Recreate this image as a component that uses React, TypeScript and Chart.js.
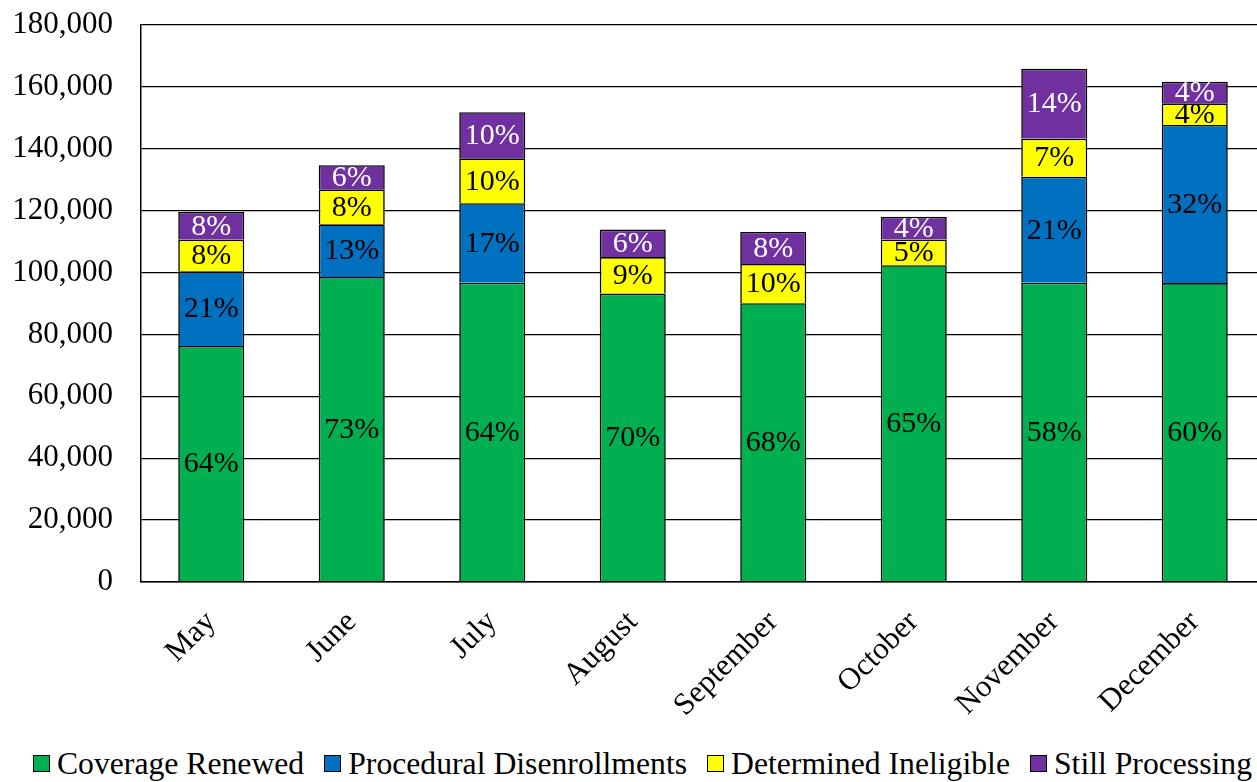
import React, { useEffect, useRef } from "react";
import { Chart, registerables } from "chart.js";

Chart.register(...registerables);

// Monthly renewal outcomes (counts)
const months = ["May", "June", "July", "August", "September", "October", "November", "December"];
const coverageRenewed = [76300, 98600, 96700, 93200, 90100, 102400, 96700, 96600];
const proceduralDisenrollments = [24100, 17000, 25700, null, null, null, 34300, 51100];
const determinedIneligible = [10200, 11300, 14500, 11800, 12700, 8300, 12300, 7000];
const stillProcessing = [9000, 7800, 14900, 8900, 10300, 7300, 22600, 7000];

// Share of each month's total, as printed on the segments
const coveragePct = [64, 73, 64, 70, 68, 65, 58, 60];
const proceduralPct = [21, 13, 17, null, null, null, 21, 32];
const ineligiblePct = [8, 8, 10, 9, 10, 5, 7, 4];
const processingPct = [8, 6, 10, 6, 8, 4, 14, 4];

const seriesNames = ["Coverage Renewed", "Procedural Disenrollments", "Determined Ineligible", "Still Processing"];
const seriesColors = ["#00B050", "#0070C0", "#FFFF00", "#7030A0"];
const labelColors = ["#000000", "#000000", "#000000", "#FFFFFF"];

const yTicks = [0, 20000, 40000, 60000, 80000, 100000, 120000, 140000, 160000, 180000];

const FONT = '"Liberation Serif", "Times New Roman", serif';

const CHART_W = 1285;
const CHART_H = 745;

export default function App() {
  const canvasRef = useRef<HTMLCanvasElement | null>(null);

  useEffect(() => {
    const canvas = canvasRef.current;
    if (!canvas) return;

    const values = [coverageRenewed, proceduralDisenrollments, determinedIneligible, stillProcessing];
    const pcts = [coveragePct, proceduralPct, ineligiblePct, processingPct];

    const segmentLabels = {
      id: "segmentLabels",
      afterDatasetsDraw(chart: any) {
        const ctx = chart.ctx;
        ctx.save();
        ctx.font = `30px ${FONT}`;
        ctx.textAlign = "center";
        ctx.textBaseline = "middle";
        chart.data.datasets.forEach((_ds: any, i: number) => {
          const meta = chart.getDatasetMeta(i);
          meta.data.forEach((bar: any, j: number) => {
            const p = pcts[i][j];
            if (p == null || values[i][j] == null) return;
            const { x, y, base } = bar.getProps(["x", "y", "base"], true);
            ctx.fillStyle = labelColors[i];
            ctx.fillText(`${p}%`, x, (y + base) / 2 + 1);
          });
        });
        ctx.restore();
      },
    };

    const chart = new Chart(canvas, {
      type: "bar",
      data: {
        labels: months,
        datasets: seriesNames.map((name, i) => ({
          label: name,
          data: values[i],
          backgroundColor: seriesColors[i],
          borderColor: "#000000",
          borderWidth: 1.6,
          categoryPercentage: 1,
          barPercentage: 0.47,
        })),
      },
      options: {
        responsive: false,
        animation: false,
        devicePixelRatio: 1,
        layout: { padding: { top: 25, right: 20, bottom: 0, left: 0 } },
        plugins: {
          legend: { display: false },
          tooltip: { enabled: false },
        },
        scales: {
          x: {
            stacked: true,
            grid: { display: false, drawTicks: false },
            border: { display: true, color: "#000000", width: 1.5 },
            ticks: {
              autoSkip: false,
              minRotation: 45,
              maxRotation: 45,
              padding: 22,
              color: "#000000",
              font: { family: FONT, size: 31 },
            },
            afterFit(scale: any) {
              scale.height = 163;
            },
          },
          y: {
            stacked: true,
            min: 0,
            max: 180000,
            afterBuildTicks(scale: any) {
              scale.ticks = yTicks.map((v) => ({ value: v }));
            },
            grid: { color: "#000000", lineWidth: 1.3, drawTicks: false },
            border: { display: true, color: "#000000", width: 1.5 },
            ticks: {
              padding: 28,
              color: "#000000",
              font: { family: FONT, size: 31 },
              callback: (v: any) => Number(v).toLocaleString("en-US"),
            },
            afterFit(scale: any) {
              scale.width = 141;
              scale.paddingTop = 0;
              scale.paddingBottom = 0;
            },
          },
        },
      },
      plugins: [segmentLabels],
    });

    return () => chart.destroy();
  }, []);

  return (
    <div style={{ position: "fixed", left: 0, top: 0, right: 0, bottom: 0, overflow: "hidden", background: "#ffffff" }}>
      <div style={{ width: CHART_W, height: 782 }}>
        <canvas ref={canvasRef} width={CHART_W} height={CHART_H} style={{ display: "block", width: CHART_W, height: CHART_H }} />
        <div
          style={{
            display: "flex",
            justifyContent: "center",
            alignItems: "center",
            height: 782 - CHART_H,
            fontFamily: FONT,
            fontSize: 31.7,
            color: "#000000",
            whiteSpace: "nowrap",
          }}
        >
          {seriesNames.map((name, i) => (
            <div key={name} style={{ display: "flex", alignItems: "center", marginLeft: i === 0 ? 0 : 20 }}>
              <span
                style={{
                  display: "inline-block",
                  width: 15,
                  height: 15,
                  background: seriesColors[i],
                  border: "1px solid #000000",
                  marginRight: 7,
                }}
              />
              <span style={{ lineHeight: "36px" }}>{name}</span>
            </div>
          ))}
        </div>
      </div>
    </div>
  );
}
